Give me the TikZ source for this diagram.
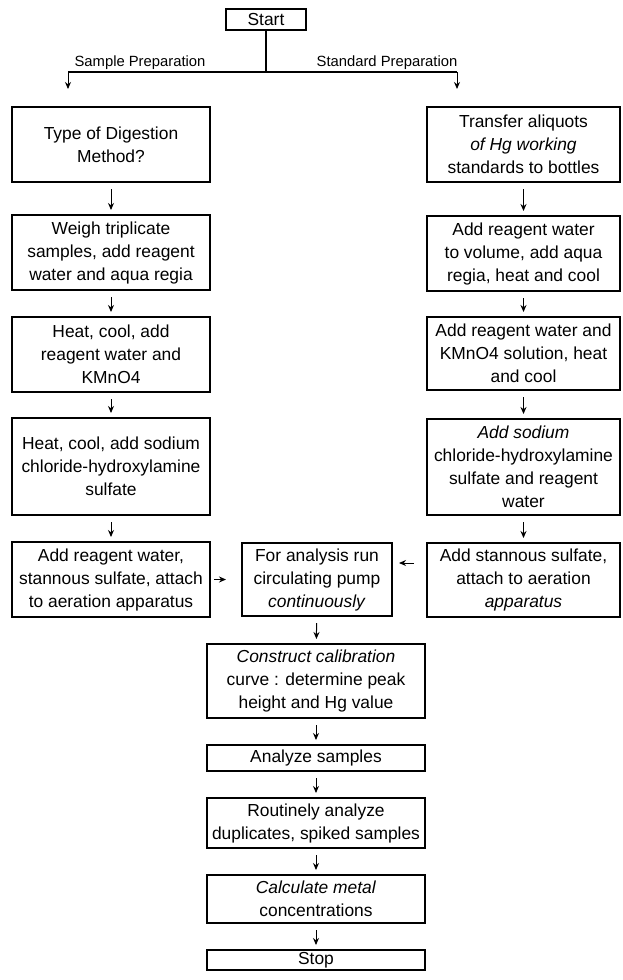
\documentclass[tikz,border=0pt]{standalone}
\usepackage{fontspec}
\setmainfont{Liberation Sans}
\usetikzlibrary{arrows.meta}

\begin{document}
\begin{tikzpicture}[x=0.5pt, y=-0.5pt,
  proc/.style={draw, line width=1pt, align=center, inner sep=0pt,
    font=\fontsize{8.7pt}{11.5pt}\selectfont},
  lbl/.style={font=\fontsize{7.4pt}{9pt}\selectfont},
  flow/.style={line width=0.5pt, -{Stealth[length=3.5pt,width=3pt]},
    shorten <=3pt, shorten >=2pt},
  line/.style={line width=0.6pt}]
\useasboundingbox (0,0) rectangle (622,980);

% Start and the two branches
\node[proc, minimum width=40pt, minimum height=10.5pt] (start) at (266,19.5) {Start};
\node[lbl] (smp) at (140,63) {Sample Preparation};
\node[lbl] (std) at (387,63) {Standard Preparation};
\coordinate (fork) at (266,72);
\coordinate (lfork) at (68,72);
\coordinate (rfork) at (457,72);

% Sample preparation (left)
\node[proc, minimum width=99pt, minimum height=37.5pt] (l1) at (111,144.5) {Type of Digestion\\Method?};
\node[proc, minimum width=99pt, minimum height=37.5pt] (l2) at (111,252.5) {Weigh triplicate\\samples, add reagent\\water and aqua regia};
\node[proc, minimum width=99pt, minimum height=37.5pt] (l3) at (111,354.5) {Heat, cool, add\\reagent water and\\KMnO4};
\node[proc, minimum width=99pt, minimum height=48.5pt] (l4) at (111,466.5) {Heat, cool, add sodium\\chloride-hydroxylamine\\sulfate};
\node[proc, minimum width=99pt, minimum height=37.5pt] (l5) at (111,579.5) {Add reagent water,\\stannous sulfate, attach\\to aeration apparatus};

% Standard preparation (right)
\node[proc, minimum width=96.5pt, minimum height=37.5pt] (r1) at (523.5,144.5) {Transfer aliquots\\\textit{of Hg working}\\standards to bottles};
\node[proc, minimum width=96.5pt, minimum height=37.5pt] (r2) at (523.5,253.5) {Add reagent water\\to volume, add aqua\\regia, heat and cool};
\node[proc, minimum width=96.5pt, minimum height=36.5pt] (r3) at (523.5,353.5) {Add reagent water and\\KMnO4 solution, heat\\and cool};
\node[proc, minimum width=96.5pt, minimum height=48pt] (r4) at (523.5,467) {\textit{Add sodium}\\chloride-hydroxylamine\\sulfate and reagent\\water};
\node[proc, minimum width=96.5pt, minimum height=37pt] (r5) at (523.5,580) {Add stannous sulfate,\\attach to aeration\\\textit{apparatus}};

% Analysis (middle)
\node[proc, minimum width=75pt, minimum height=36.5pt] (m) at (317,579.5) {For analysis run\\circulating pump\\\textit{continuously}};
\node[proc, minimum width=109pt, minimum height=37pt] (con) at (316,681) {\textit{Construct calibration}\\curve : determine peak\\height and Hg value};
\node[proc, minimum width=109pt, minimum height=13pt] (ana) at (316,758) {Analyze samples};
\node[proc, minimum width=109pt, minimum height=25pt] (rou) at (316,823) {Routinely analyze\\duplicates, spiked samples};
\node[proc, minimum width=109pt, minimum height=24pt] (cal) at (316,899) {\textit{Calculate metal}\\concentrations};
\node[proc, minimum width=109pt, minimum height=10pt] (stop) at (316,960) {Stop};

% Connectors
\draw[line] (start) -- (fork);
\draw[line] (lfork) -- (rfork);
\draw[flow, shorten <=0pt, shorten >=8.5pt] (lfork) -- (lfork |- l1.north);
\draw[flow, shorten <=0pt, shorten >=8.5pt] (rfork) -- (rfork |- r1.north);
\foreach \a/\b in {l1/l2, l2/l3, l3/l4, l4/l5, r1/r2, r2/r3, r3/r4, r4/r5, m/con, con/ana, ana/rou, rou/cal, cal/stop}
  \draw[flow] (\a) -- (\b);
\draw[flow, shorten <=1.5pt, shorten >=7.5pt] (l5) -- (m);
\draw[flow, shorten <=6pt, shorten >=3pt] ([yshift=8.5pt]r5.west) -- ([yshift=8.5pt]r5.west -| m.east);
\end{tikzpicture}
\end{document}
